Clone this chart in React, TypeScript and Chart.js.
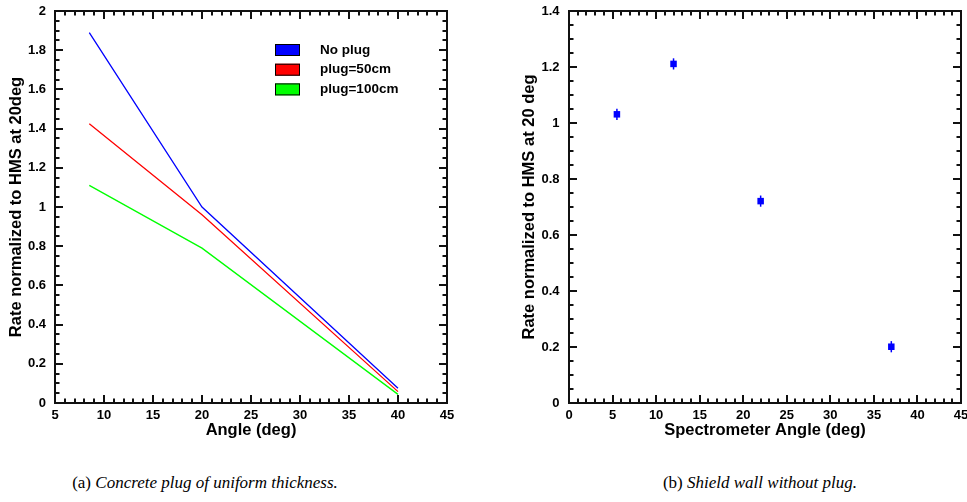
import React, { useEffect, useRef } from "react";
import { Chart, registerables } from "chart.js";

Chart.register(...registerables);

// ---------- data ----------
const angleA = [8.5, 20, 40];
const noPlug = [1.89, 1.0, 0.075];
const plug50 = [1.425, 0.96, 0.058];
const plug100 = [1.11, 0.79, 0.044];
const seriesLabelsA = ["No plug", "plug=50cm", "plug=100cm"];
const seriesColorsA = ["#0000ff", "#ff0000", "#00ff00"];

const angleB = [5.5, 12, 22, 37];
const rateB = [1.031, 1.211, 0.721, 0.201];
const errB = [0.02, 0.02, 0.02, 0.02];

const xTitleA = "Angle (deg)";
const yTitleA = "Rate normalized to HMS at 20deg";
const xTitleB = "Spectrometer Angle (deg)";
const yTitleB = "Rate normalized to HMS at 20 deg";
const captionA = ["(a) ", "Concrete plug of uniform thickness."];
const captionB = ["(b) ", "Shield wall without plug."];

const FONT = "'Liberation Sans', Arial, Helvetica, sans-serif";

Chart.defaults.font.family = FONT;
(Chart.defaults.font as any).weight = "bold";
Chart.defaults.color = "#000";

// ---------- plugins ----------
type TickCfg = { xMin: number; xMax: number; xMajor: number; xMinor: number; yMin: number; yMax: number; yMajor: number; yMinor: number };

function makeFrameTicks(cfg: TickCfg) {
  return {
    id: "frameTicks",
    afterDraw(chart: any) {
      const ctx = chart.ctx;
      const ca = chart.chartArea;
      const left = ca.left, top = ca.top, right = ca.right, bottom = ca.bottom;
      const xs = chart.scales.x;
      const ys = chart.scales.y;
      ctx.save();
      ctx.strokeStyle = "#111";
      ctx.lineWidth = 2;
      const major = 8;
      const minor = 4.5;
      const nx = Math.round((cfg.xMax - cfg.xMin) / cfg.xMinor);
      const xPer = Math.round(cfg.xMajor / cfg.xMinor);
      for (let i = 0; i <= nx; i++) {
        const v = cfg.xMin + i * cfg.xMinor;
        const px = Math.round(xs.getPixelForValue(v));
        const len = i % xPer === 0 ? major : minor;
        ctx.beginPath();
        ctx.moveTo(px, bottom);
        ctx.lineTo(px, bottom - len);
        ctx.moveTo(px, top);
        ctx.lineTo(px, top + len);
        ctx.stroke();
      }
      const ny = Math.round((cfg.yMax - cfg.yMin) / cfg.yMinor);
      const yPer = Math.round(cfg.yMajor / cfg.yMinor);
      for (let i = 0; i <= ny; i++) {
        const v = cfg.yMin + i * cfg.yMinor;
        const py = Math.round(ys.getPixelForValue(v));
        const len = i % yPer === 0 ? major : minor;
        ctx.beginPath();
        ctx.moveTo(left, py);
        ctx.lineTo(left + len, py);
        ctx.moveTo(right, py);
        ctx.lineTo(right - len, py);
        ctx.stroke();
      }
      ctx.lineWidth = 2;
      ctx.strokeRect(left, top, right - left, bottom - top);
      ctx.restore();
    },
  };
}

type LegendCfg = { offsetX: number; offsetY: number; rowGap: number };

function makeBoxLegend(cfg: LegendCfg) {
  return {
    id: "boxLegend",
    afterDraw(chart: any) {
      const ctx = chart.ctx;
      const ca = chart.chartArea;
      ctx.save();
      ctx.font = `bold 13.5px ${FONT}`;
      ctx.textBaseline = "middle";
      ctx.textAlign = "left";
      chart.data.datasets.forEach((ds: any, i: number) => {
        const bx = ca.left + cfg.offsetX;
        const cy = ca.top + cfg.offsetY + i * cfg.rowGap;
        ctx.fillStyle = ds.borderColor;
        ctx.fillRect(bx, cy - 6, 25, 12);
        ctx.strokeStyle = "#000";
        ctx.lineWidth = 1;
        ctx.strokeRect(bx + 0.5, cy - 6 + 0.5, 24, 11);
        ctx.fillStyle = "#000";
        ctx.fillText(ds.label, bx + 45, cy);
      });
      ctx.restore();
    },
  };
}

const errorBars = {
  id: "errorBars",
  beforeDatasetsDraw(chart: any) {
    const { ctx } = chart;
    const xs = chart.scales.x;
    const ys = chart.scales.y;
    ctx.save();
    chart.data.datasets.forEach((ds: any) => {
      if (!ds.yErr) return;
      ctx.strokeStyle = ds.backgroundColor;
      ctx.lineWidth = 1.5;
      ds.data.forEach((p: any, i: number) => {
        const px = xs.getPixelForValue(p.x);
        const y1 = ys.getPixelForValue(p.y - ds.yErr[i]);
        const y2 = ys.getPixelForValue(p.y + ds.yErr[i]);
        ctx.beginPath();
        ctx.moveTo(px, y1);
        ctx.lineTo(px, y2);
        ctx.stroke();
      });
    });
    ctx.restore();
  },
};

function axisCommon(
  min: number,
  max: number,
  step: number,
  title: string,
  isX: boolean,
  boxSize: number,
  titlePad: any,
  tickPad: number
) {
  return {
    type: "linear",
    min,
    max,
    ticks: {
      stepSize: step,
      color: "#000",
      padding: tickPad,
      font: { family: FONT, size: 13, weight: "bold" },
      maxRotation: 0,
      autoSkip: false,
      callback: (v: any) => String(parseFloat(Number(v).toFixed(2))),
    },
    grid: { display: false, drawTicks: false },
    border: { display: false },
    title: {
      display: true,
      text: title,
      color: "#000",
      font: { family: FONT, size: 16.5, weight: "bold" },
      padding: titlePad,
    },
    afterFit: (s: any) => {
      if (isX) s.height = boxSize;
      else s.width = boxSize;
      s.paddingLeft = 0;
      s.paddingRight = 0;
      s.paddingTop = 0;
      s.paddingBottom = 0;
    },
  };
}

function ChartA() {
  const ref = useRef<HTMLCanvasElement>(null);
  useEffect(() => {
    const vals = [noPlug, plug50, plug100];
    const chart = new Chart(ref.current as HTMLCanvasElement, {
      type: "scatter",
      data: {
        datasets: vals.map((arr, k) => ({
          label: seriesLabelsA[k],
          data: angleA.map((a, i) => ({ x: a, y: arr[i] })),
          showLine: true,
          borderColor: seriesColorsA[k],
          backgroundColor: seriesColorsA[k],
          borderWidth: 1.3,
          pointRadius: 0,
          tension: 0,
        })),
      },
      options: {
        animation: false,
        responsive: false,
        layout: { padding: { left: 0, right: 33, top: 11, bottom: 0 } },
        plugins: {
          legend: { display: false },
          tooltip: { enabled: false },
        },
        scales: {
          x: axisCommon(5, 45, 5, xTitleA, true, 42, { top: 0, bottom: 5 }, 5),
          y: axisCommon(0, 2, 0.2, yTitleA, false, 55, { top: 6.5, bottom: 0 }, 9),
        } as any,
      },
      plugins: [
        makeFrameTicks({ xMin: 5, xMax: 45, xMajor: 5, xMinor: 1, yMin: 0, yMax: 2, yMajor: 0.2, yMinor: 0.05 }),
        makeBoxLegend({ offsetX: 220, offsetY: 39, rowGap: 19.7 }),
      ],
    } as any);
    return () => chart.destroy();
  }, []);
  return (
    <canvas
      ref={ref}
      width={480}
      height={445}
      style={{ position: "absolute", left: 0, top: 0, width: 480, height: 445 }}
    />
  );
}

function ChartB() {
  const ref = useRef<HTMLCanvasElement>(null);
  useEffect(() => {
    const chart = new Chart(ref.current as HTMLCanvasElement, {
      type: "scatter",
      data: {
        datasets: [
          {
            label: "data",
            data: angleB.map((a, i) => ({ x: a, y: rateB[i] })),
            yErr: errB,
            showLine: false,
            backgroundColor: "#0000ff",
            borderColor: "#0000ff",
            borderWidth: 0,
            pointStyle: "rect",
            pointRadius: 4.6,
          } as any,
        ],
      },
      options: {
        animation: false,
        responsive: false,
        layout: { padding: { left: 0, right: 6, top: 11, bottom: 0 } },
        plugins: {
          legend: { display: false },
          tooltip: { enabled: false },
        },
        scales: {
          x: axisCommon(0, 45, 5, xTitleB, true, 42, { top: 0, bottom: 5 }, 5),
          y: axisCommon(0, 1.4, 0.2, yTitleB, false, 89, { top: 40, bottom: 0 }, 9.5),
        } as any,
      },
      plugins: [
        makeFrameTicks({ xMin: 0, xMax: 45, xMajor: 5, xMinor: 1, yMin: 0, yMax: 1.4, yMajor: 0.2, yMinor: 0.05 }),
        errorBars,
      ],
    } as any);
    return () => chart.destroy();
  }, []);
  return (
    <canvas
      ref={ref}
      width={487}
      height={445}
      style={{ position: "absolute", left: 480, top: 0, width: 487, height: 445 }}
    />
  );
}

function Caption({ parts, cx }: { parts: string[]; cx: number }) {
  return (
    <div
      style={{
        position: "absolute",
        left: cx,
        top: 472,
        transform: "translateX(-50%)",
        whiteSpace: "nowrap",
        fontFamily: "'Liberation Serif', 'Times New Roman', serif",
        fontSize: 17,
        lineHeight: "22px",
        color: "#000",
      }}
    >
      <span>{parts[0]}</span>
      <span style={{ fontStyle: "italic" }}>{parts[1]}</span>
    </div>
  );
}

export default function App() {
  return (
    <div
      style={{
        position: "absolute",
        left: 0,
        top: 0,
        width: 967,
        height: 502,
        background: "#fff",
        overflow: "hidden",
      }}
    >
      <ChartA />
      <ChartB />
      <Caption parts={captionA} cx={205} />
      <Caption parts={captionB} cx={760} />
    </div>
  );
}
